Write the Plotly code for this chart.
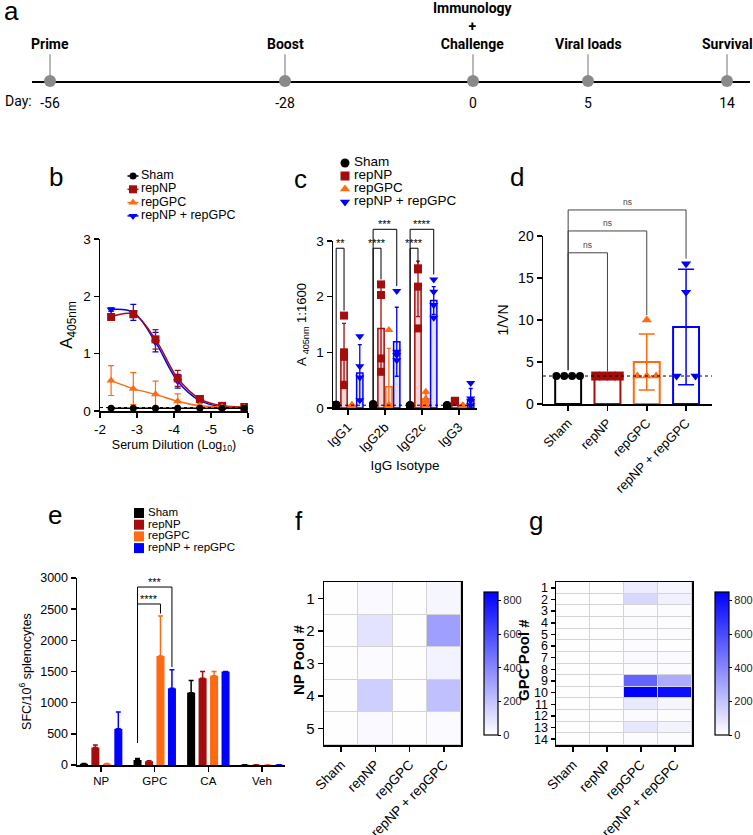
import numpy as np
import plotly.graph_objects as go

W, H = 753, 835
FONT = "Liberation Sans, Arial, Helvetica, sans-serif"
TLFONT = "Roboto, Lato, Liberation Sans, sans-serif"

# ---------------- data ----------------
groups = ["Sham", "repNP", "repGPC", "repNP + repGPC"]
group_colors = ["#000000", "#a50d0d", "#ff6a13", "#0000ff"]
group_fills = ["rgba(0,0,0,0.15)", "rgba(165,13,13,0.16)", "rgba(255,106,19,0.18)", "rgba(0,0,255,0.12)"]
group_symbols = ["circle", "square", "triangle-up", "triangle-down"]

# (a) study timeline (schematic spacing, not to scale)
timeline_events = ["Prime", "Boost", "Immunology<br>+<br>Challenge", "Viral loads", "Survival"]
timeline_days = ["-56", "-28", "0", "5", "14"]
timeline_pos = [0, 235, 423, 538, 677]

# (b) ELISA dilution curves
b_log_dilution = [-2.3, -2.9, -3.5, -4.1, -4.7, -5.3, -5.9]
b_mean = {
    "Sham": [0.05, 0.05, 0.05, 0.05, 0.05, 0.05, 0.05],
    "repNP": [1.64, 1.69, 1.25, 0.57, 0.21, 0.09, 0.07],
    "repGPC": [0.53, 0.39, 0.29, 0.17, 0.09, 0.07, 0.06],
    "repNP + repGPC": [1.77, 1.72, 1.20, 0.52, 0.18, 0.07, 0.05],
}
b_sd = {
    "Sham": [0.01, 0.01, 0.01, 0.01, 0.01, 0.01, 0.01],
    "repNP": [0.03, 0.06, 0.17, 0.14, 0.03, 0.02, 0.01],
    "repGPC": [0.26, 0.28, 0.23, 0.13, 0.04, 0.02, 0.01],
    "repNP + repGPC": [0.03, 0.14, 0.17, 0.12, 0.03, 0.01, 0.01],
}
b_lod = 0.06

# (c) IgG isotypes
c_isotypes = ["IgG1", "IgG2b", "IgG2c", "IgG3"]
c_mean = {
    "Sham": [0.06, 0.06, 0.05, 0.05],
    "repNP": [1.00, 1.43, 2.14, 0.12],
    "repGPC": [0.05, 0.38, 0.16, 0.04],
    "repNP + repGPC": [0.63, 1.19, 1.93, 0.15],
}
c_sd = {
    "Sham": [0.01, 0.01, 0.01, 0.01],
    "repNP": [0.52, 0.78, 0.50, 0.02],
    "repGPC": [0.01, 0.69, 0.10, 0.01],
    "repNP + repGPC": [0.51, 0.62, 0.25, 0.20],
}
c_points = {
    "Sham": [[0.06, 0.06, 0.05, 0.06], [0.07, 0.06, 0.06, 0.05], [0.05, 0.05, 0.05, 0.04], [0.05, 0.05, 0.05, 0.04]],
    "repNP": [[1.66, 1.00, 0.92, 0.41], [2.22, 2.03, 0.89, 0.65], [2.51, 2.49, 2.18, 1.43], [0.13, 0.12, 0.12, 0.11]],
    "repGPC": [[0.06, 0.05, 0.04, 0.04], [1.40, 0.06, 0.05, 0.04], [0.29, 0.17, 0.12, 0.05], [0.05, 0.04, 0.04, 0.03]],
    "repNP + repGPC": [[1.29, 0.75, 0.55, 0.14], [2.10, 1.01, 0.95, 0.86], [2.31, 2.09, 1.85, 1.62], [0.45, 0.17, 0.13, 0.05]],
}
c_lod = 0.05
c_sig = [  # isotype, compared group, tier, label
    ("IgG1", "repNP", 1, "**"),
    ("IgG2b", "repNP", 1, "****"),
    ("IgG2b", "repNP + repGPC", 2, "***"),
    ("IgG2c", "repNP", 1, "****"),
    ("IgG2c", "repNP + repGPC", 2, "****"),
]

# (d) neutralisation
d_points = {
    "Sham": [3.33, 3.33, 3.33, 3.33],
    "repNP": [3.33, 3.33, 3.33, 3.33],
    "repGPC": [10.0, 3.33, 3.33, 3.33],
    "repNP + repGPC": [16.7, 13.3, 3.33, 3.33],
}
d_lod = 3.33
d_sig = [("repNP", 1, "ns"), ("repGPC", 2, "ns"), ("repNP + repGPC", 3, "ns")]

# (e) ELISpot
e_antigens = ["NP", "GPC", "CA", "Veh"]
e_mean = {
    "Sham": [20, 80, 1160, 5],
    "repNP": [280, 60, 1390, 5],
    "repGPC": [20, 1750, 1430, 5],
    "repNP + repGPC": [580, 1230, 1500, 5],
}
e_sd = {
    "Sham": [5, 25, 195, 0],
    "repNP": [40, 10, 110, 0],
    "repGPC": [5, 640, 70, 0],
    "repNP + repGPC": [270, 300, 0, 0],
}
e_sig = [("GPC", "repGPC", 1, "****"), ("GPC", "repNP + repGPC", 2, "***")]

# (f) NP peptide pools heatmap
f_pools = [1, 2, 3, 4, 5]
f_sfc = [
    [5, 20, 5, 30],
    [5, 95, 5, 320],
    [5, 15, 5, 40],
    [5, 160, 5, 210],
    [5, 20, 5, 15],
]
# (g) GPC peptide pools heatmap
g_pools = list(range(1, 15))
g_sfc = [
    [5, 5, 60, 30],
    [5, 5, 130, 50],
    [5, 5, 10, 10],
    [5, 5, 15, 10],
    [5, 5, 10, 10],
    [5, 5, 10, 5],
    [5, 5, 20, 15],
    [5, 5, 10, 10],
    [5, 5, 520, 280],
    [5, 5, 850, 810],
    [5, 5, 70, 30],
    [5, 5, 15, 10],
    [5, 5, 80, 40],
    [5, 5, 10, 10],
]
heat_ticks = [0, 200, 400, 600, 800]
heat_max = 850


# ---------------- helpers ----------------
def px(a):
    return a / W


def py(b):
    return 1 - b / H


def xd(a, b):
    return [px(a), px(b)]


def yd(top, bottom):
    return [py(bottom), py(top)]


def frac(v, r):
    return (v - r[0]) / (r[1] - r[0])


shapes, annotations = [], []


def seg(n, xr, yr, x0, y0, x1, y1, color="black", width=1.0):
    shapes.append(dict(type="line", xref=f"x{n} domain", yref=f"y{n} domain",
                       x0=frac(x0, xr), y0=frac(y0, yr), x1=frac(x1, xr), y1=frac(y1, yr),
                       line=dict(color=color, width=width)))


def bracket(n, xr, yr, xl, xrt, ytop, ylb, yrb, label, fsize, color="black", yshift=-3):
    seg(n, xr, yr, xl, ylb, xl, ytop, color)
    seg(n, xr, yr, xl, ytop, xrt, ytop, color)
    seg(n, xr, yr, xrt, ytop, xrt, yrb, color)
    annotations.append(dict(xref=f"x{n} domain", yref=f"y{n} domain",
                            x=frac((xl + xrt) / 2, xr), y=frac(ytop, yr), text=label,
                            showarrow=False, xanchor="center", yanchor="bottom", yshift=yshift,
                            font=dict(family=FONT, size=fsize, color=color)))


def lod_line(n, yr, v):
    shapes.append(dict(type="line", xref=f"x{n} domain", yref=f"y{n} domain",
                       x0=0, x1=1, y0=frac(v, yr), y1=frac(v, yr),
                       line=dict(color="black", width=1, dash="dot")))


def axstyle(**kw):
    d = dict(showline=True, linecolor="black", linewidth=1.5, ticks="outside", ticklen=5,
             tickwidth=1.5, tickcolor="black", showgrid=False, zeroline=False,
             tickfont=dict(family=FONT, size=13, color="black"))
    d.update(kw)
    return d


def spread(vals, center):
    xs = []
    for k, v in enumerate(vals):
        same = [j for j, w in enumerate(vals) if w == v]
        n = len(same)
        if n == 1:
            xs.append(center)
        else:
            s = 0.3 if n >= 4 else 0.24
            xs.append(center - s + 2 * s * same.index(k) / (n - 1))
    return xs


fig = go.Figure()

# ---------------- (a) timeline ----------------
fig.add_trace(go.Scatter(
    x=timeline_pos, y=np.zeros(len(timeline_pos)), mode="markers", xaxis="x", yaxis="y",
    marker=dict(size=12, color="#8a8a8a"), cliponaxis=False, hoverinfo="skip",
    error_y=dict(type="constant", value=0.33, valueminus=0, symmetric=False, width=0,
                 thickness=1.2, color="#8a8a8a")))
for p, ev in zip(timeline_pos, timeline_events):
    annotations.append(dict(xref="x", yref="y", x=p, y=0.35, text=f"<b>{ev}</b>", showarrow=False,
                            xanchor="center", yanchor="bottom", borderpad=0,
                            font=dict(family=TLFONT, size=14, color="black")))
annotations.append(dict(xref="paper", yref="paper", x=px(3), y=py(101), text="Day:",
                        showarrow=False, xanchor="left", yanchor="middle",
                        font=dict(family=TLFONT, size=14, color="black")))

# ---------------- (b) dilution curves ----------------
b_xr, b_yr = [-2, -6], [0, 3]
for gi in [3, 1, 2, 0]:
    g = groups[gi]
    fig.add_trace(go.Scatter(
        x=b_log_dilution, y=b_mean[g], mode="lines+markers", xaxis="x2", yaxis="y2",
        line=dict(color=group_colors[gi], width=1.5, shape="spline", smoothing=1.0),
        marker=dict(symbol=group_symbols[gi], size=8 if gi else 7, color=group_colors[gi]),
        error_y=dict(type="data", array=b_sd[g], width=3, thickness=1.2, color=group_colors[gi]),
        hoverinfo="skip"))
lod_line(2, b_yr, b_lod)

# ---------------- (c) isotypes ----------------
c_xr, c_yr = [-0.405, 3.49], [0, 3]
c_off = [(i - 1.5) * 0.213 for i in range(4)]
for gi, g in enumerate(groups):
    xs = np.arange(len(c_isotypes)) + c_off[gi]
    fig.add_trace(go.Bar(
        x=xs, y=c_mean[g], width=0.17, xaxis="x3", yaxis="y3",
        marker=dict(color=group_fills[gi], line=dict(color=group_colors[gi], width=1.5)),
        error_y=dict(type="data", array=c_sd[g], width=2, thickness=1.3, color=group_colors[gi]),
        hoverinfo="skip"))
for gi, g in enumerate(groups):
    px_, py_ = [], []
    for ci, pts in enumerate(c_points[g]):
        px_ += [ci + c_off[gi]] * len(pts)
        py_ += pts
    fig.add_trace(go.Scatter(
        x=px_, y=py_, mode="markers", xaxis="x3", yaxis="y3",
        marker=dict(symbol=group_symbols[gi], size=8, color=group_colors[gi]), hoverinfo="skip"))
lod_line(3, c_yr, c_lod)
c_tiers = {1: 2.87, 2: 3.21}
for iso, g2, tier, lab in c_sig:
    ci = c_isotypes.index(iso)
    gi = groups.index(g2)
    xl = ci + c_off[0]
    xr = ci + c_off[gi]
    bracket(3, c_xr, c_yr, xl, xr, c_tiers[tier], max(c_points["Sham"][ci]) + 0.06,
            max(c_points[g2][ci]) + 0.09, lab, 11)

# ---------------- (d) neutralisation ----------------
d_xr, d_yr = [-0.64, 3.66], [0, 20]
for gi, g in enumerate(groups):
    pts = np.array(d_points[g])
    fig.add_trace(go.Bar(
        x=[gi], y=[pts.mean()], width=0.66, xaxis="x4", yaxis="y4",
        marker=dict(color="rgba(255,255,255,0)", line=dict(color=group_colors[gi], width=2)),
        error_y=dict(type="data", array=[pts.std(ddof=1)], width=8, thickness=1.5,
                     color=group_colors[gi]),
        hoverinfo="skip"))
for gi, g in enumerate(groups):
    fig.add_trace(go.Scatter(
        x=spread(d_points[g], gi), y=d_points[g], mode="markers", xaxis="x4", yaxis="y4",
        marker=dict(symbol=group_symbols[gi], size=9 if gi else 8, color=group_colors[gi]),
        hoverinfo="skip"))
lod_line(4, d_yr, d_lod)
d_tiers = {1: 18.0, 2: 20.6, 3: 23.1}
for g2, tier, lab in d_sig:
    gi = groups.index(g2)
    bracket(4, d_xr, d_yr, 0, gi, d_tiers[tier], max(d_points["Sham"]) + 0.7,
            max(d_points[g2]) + 0.6, lab, 8.5, color="#444444", yshift=1)

# ---------------- (e) ELISpot ----------------
e_xr, e_yr = [-0.45, 3.43], [0, 3000]
e_off = [(i - 1.5) * 0.214 for i in range(4)]
for gi, g in enumerate(groups):
    fig.add_trace(go.Bar(
        x=np.arange(len(e_antigens)) + e_off[gi], y=e_mean[g], width=0.15, xaxis="x5", yaxis="y5",
        marker=dict(color=group_colors[gi], line=dict(width=0)),
        error_y=dict(type="data", array=e_sd[g], arrayminus=[0] * len(e_sd[g]), symmetric=False,
                     width=2.5, thickness=1.5, color=group_colors[gi]),
        hoverinfo="skip"))
e_tiers = {1: 2583, 2: 2855}
for ant, g2, tier, lab in e_sig:
    ai = e_antigens.index(ant)
    gi = groups.index(g2)
    bracket(5, e_xr, e_yr, ai + e_off[0], ai + e_off[gi], e_tiers[tier],
            e_mean["Sham"][ai] + e_sd["Sham"][ai] + 250,
            e_mean[g2][ai] + e_sd[g2][ai] + 40, lab, 11)

# ---------------- (f) / (g) heatmaps ----------------
heat_scale = [[0, "#ffffff"], [1, "#0000ff"]]


def cbar(x_left):
    return dict(x=px(x_left), xanchor="left", y=py(745), yanchor="bottom", len=163 / H,
                lenmode="fraction", thickness=14, outlinewidth=1.2, outlinecolor="black",
                tickvals=heat_ticks, ticks="outside", ticklen=3, tickcolor="black",
                tickfont=dict(family=FONT, size=11, color="#222222"))


fig.add_trace(go.Heatmap(z=f_sfc, x=groups, y=f_pools, xaxis="x6", yaxis="y6", colorscale=heat_scale,
                         zmin=0, zmax=heat_max, xgap=1, ygap=1, colorbar=cbar(474), hoverinfo="skip"))
fig.add_trace(go.Heatmap(z=g_sfc, x=groups, y=g_pools, xaxis="x7", yaxis="y7", colorscale=heat_scale,
                         zmin=0, zmax=heat_max, xgap=1, ygap=1, colorbar=cbar(705), hoverinfo="skip"))
for n in (6, 7):
    shapes.append(dict(type="rect", xref=f"x{n} domain", yref=f"y{n} domain", x0=0, x1=1, y0=0, y1=1,
                       fillcolor="#d4d4d4", line=dict(width=0), layer="below"))
for txt, x in [("<b>NP Pool #</b>", 298), ("<b>GPC Pool #</b>", 523)]:
    annotations.append(dict(xref="paper", yref="paper", x=px(x), y=py(660), text=txt, textangle=-90,
                            showarrow=False, xanchor="center", yanchor="middle",
                            font=dict(family=FONT, size=15, color="black")))


# ---------------- custom legends (b, c, e) ----------------
def legend_block(n, row0, step, glyph_x, text_x, fsize, kind):
    rows = [row0 + step * i for i in range(len(groups))]
    for gi, g in enumerate(groups):
        if kind == "line":
            fig.add_trace(go.Scatter(
                x=[glyph_x], y=[rows[gi]], mode="markers", xaxis=f"x{n}", yaxis=f"y{n}",
                marker=dict(symbol=group_symbols[gi], size=8 if gi else 7, color=group_colors[gi]),
                error_x=dict(type="constant", value=5.5, width=0, thickness=1.5, color=group_colors[gi]),
                cliponaxis=False, hoverinfo="skip"))
        elif kind == "marker":
            fig.add_trace(go.Scatter(
                x=[glyph_x], y=[rows[gi]], mode="markers", xaxis=f"x{n}", yaxis=f"y{n}",
                marker=dict(symbol=group_symbols[gi], size=9, color=group_colors[gi]),
                cliponaxis=False, hoverinfo="skip"))
        else:
            fig.add_trace(go.Scatter(
                x=[glyph_x], y=[rows[gi]], mode="markers", xaxis=f"x{n}", yaxis=f"y{n}",
                marker=dict(symbol="square", size=10, color=group_colors[gi]),
                cliponaxis=False, hoverinfo="skip"))
    fig.add_trace(go.Scatter(
        x=[text_x] * len(groups), y=rows, mode="text", text=groups, textposition="middle right",
        xaxis=f"x{n}", yaxis=f"y{n}", cliponaxis=False, hoverinfo="skip",
        textfont=dict(family=FONT, size=fsize, color="black")))


legend_block(8, 8, 13.3, 8, 16, 12.5, "line")
legend_block(9, 8, 13.0, 10, 19, 13.5, "marker")
legend_block(10, 8, 11.7, 9, 18, 11.5, "square")

# ---------------- panel letters ----------------
for lab, x, y, xa in [("a", 2, 11, "left"), ("b", 56, 177, "center"), ("c", 300, 179, "center"),
                      ("d", 517, 177, "center"), ("e", 55, 515, "center"), ("f", 299, 521, "center"),
                      ("g", 536, 521, "center")]:
    annotations.append(dict(xref="paper", yref="paper", x=px(x), y=py(y), text=lab,
                            showarrow=False, xanchor=xa, yanchor="middle",
                            font=dict(family=FONT, size=26, color="black")))

hidden = dict(visible=False, fixedrange=True, showgrid=False, zeroline=False)

layout = dict(
    width=W, height=H, margin=dict(l=0, r=0, t=0, b=0, pad=0, autoexpand=False),
    paper_bgcolor="white", plot_bgcolor="white",
    barmode="overlay", showlegend=False, font=dict(family=FONT, color="black", size=13),
    shapes=shapes, annotations=annotations,
    # (a)
    xaxis=dict(domain=xd(32, 750), range=[-18, 700], anchor="y", showline=True, linecolor="black",
               linewidth=2, tickvals=timeline_pos, ticktext=timeline_days, ticks="outside", ticklen=8,
               tickcolor="rgba(0,0,0,0)", tickfont=dict(family=TLFONT, size=14, color="black"),
               showgrid=False, zeroline=False, layer="below traces", fixedrange=True),
    yaxis=dict(domain=yd(0, 81), range=[0, 1], anchor="x", **hidden),
    # (b)
    xaxis2=axstyle(domain=xd(100, 248), range=b_xr, anchor="y2", tickvals=[-2, -3, -4, -5, -6],
                   ticktext=["-2", "-3", "-4", "-5", "-6"], tickfont=dict(family=FONT, size=13.5),
                   title=dict(text="Serum Dilution (Log<sub>10</sub>)", font=dict(family=FONT, size=12.5),
                              standoff=4)),
    yaxis2=axstyle(domain=yd(239, 411), range=b_yr, anchor="x2", dtick=1,
                   tickfont=dict(family=FONT, size=13.5),
                   title=dict(text="A<sub>405nm</sub>", font=dict(family=FONT, size=17), standoff=6)),
    # (c)
    xaxis3=axstyle(domain=xd(333, 477), range=c_xr, anchor="y3", tickvals=[0, 1, 2, 3],
                   ticktext=c_isotypes, tickangle=-45, tickfont=dict(family=FONT, size=13),
                   title=dict(text="IgG Isotype", font=dict(family=FONT, size=13.5), standoff=6)),
    yaxis3=axstyle(domain=yd(241, 408), range=c_yr, anchor="x3", dtick=1,
                   tickfont=dict(family=FONT, size=13.5),
                   title=dict(text="A <sub>405nm</sub> 1:1600", font=dict(family=FONT, size=13), standoff=6)),
    # (d)
    xaxis4=axstyle(domain=xd(543, 712), range=d_xr, anchor="y4", tickvals=[0, 1, 2, 3],
                   ticktext=groups, tickangle=-45, tickfont=dict(family=FONT, size=13)),
    yaxis4=axstyle(domain=yd(236, 404), range=d_yr, anchor="x4", dtick=5,
                   tickfont=dict(family=FONT, size=14),
                   title=dict(text="1/VN", font=dict(family=FONT, size=14), standoff=6)),
    # (e)
    xaxis5=axstyle(domain=xd(77, 285), range=e_xr, anchor="y5", tickvals=[0, 1, 2, 3],
                   ticktext=e_antigens, tickfont=dict(family=FONT, size=11.5)),
    yaxis5=axstyle(domain=yd(578, 765), range=e_yr, anchor="x5", dtick=500,
                   tickfont=dict(family=FONT, size=12.5),
                   title=dict(text="SFC/10<sup>6</sup> splenocytes", font=dict(family=FONT, size=12.5),
                              standoff=6)),
    # (f)
    xaxis6=axstyle(domain=xd(324, 461), anchor="y6", type="category", range=[-0.5, 3.5], mirror=True,
                   tickangle=-45, tickfont=dict(family=FONT, size=13.5)),
    yaxis6=axstyle(domain=yd(582, 745), anchor="x6", range=[5.5, 0.5], tickvals=f_pools, mirror=True,
                   tickfont=dict(family=FONT, size=15)),
    # (g)
    xaxis7=axstyle(domain=xd(556, 692), anchor="y7", type="category", range=[-0.5, 3.5], mirror=True,
                   tickangle=-45, tickfont=dict(family=FONT, size=13.5)),
    yaxis7=axstyle(domain=yd(582, 745), anchor="x7", range=[14.5, 0.5], tickvals=g_pools, mirror=True,
                   ticklen=4, tickfont=dict(family=FONT, size=12.5)),
    # legend boxes
    xaxis8=dict(domain=xd(125, 250), range=[0, 125], anchor="y8", **hidden),
    yaxis8=dict(domain=yd(168, 224), range=[56, 0], anchor="x8", **hidden),
    xaxis9=dict(domain=xd(335, 480), range=[0, 145], anchor="y9", **hidden),
    yaxis9=dict(domain=yd(155, 212), range=[57, 0], anchor="x9", **hidden),
    xaxis10=dict(domain=xd(130, 250), range=[0, 120], anchor="y10", **hidden),
    yaxis10=dict(domain=yd(505, 553), range=[48, 0], anchor="x10", **hidden),
)
fig.update_layout(**layout)
# remove the browser's default 8 px body margin so the figure fills the window exactly
fig.write_html("out.html", config={"displayModeBar": False, "staticPlot": True},
               post_script="document.body.style.margin='0';document.body.style.overflow='hidden';")
